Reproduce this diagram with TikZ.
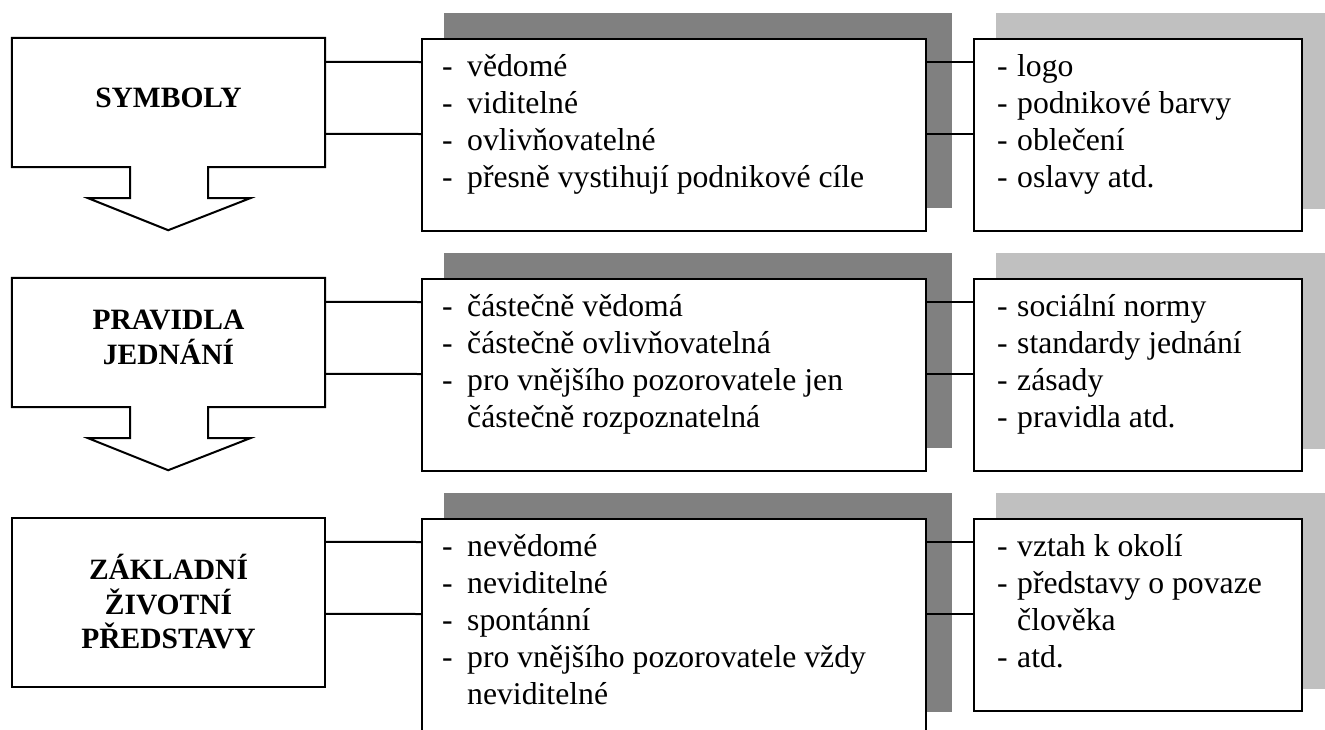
\documentclass[tikz,border=0pt]{standalone}
\usepackage{fontspec}
\setmainfont{Liberation Serif}
\usetikzlibrary{calc}
\definecolor{shadedark}{HTML}{808080}
\definecolor{shadelight}{HTML}{C0C0C0}

% bullet-style lines with a hanging dash
\newlength\dashw
\newcommand\itm[1]{\hbox{\makebox[\dashw][l]{-}#1}}
\newcommand\cnt[1]{\hbox{\hspace*{\dashw}#1}}
\newcommand\itemlist[2]{\setlength\dashw{#1}\vtop{\baselineskip=37pt #2}}
\newcommand\heading[1]{\vtop{\baselineskip=34.5pt\halign{\hfil##\hfil\cr#1\crcr}}}

\pgfdeclarelayer{back}
\pgfsetlayers{back,main}

\tikzset{
  outline/.style={draw=black, line width=2pt, fill=white, line join=miter},
  levelbox/.style={inner sep=0pt, minimum width=313pt},
  midbox/.style={draw=black, line width=2pt, fill=white, inner sep=0pt,
    minimum width=504pt, anchor=north west},
  sidebox/.style={draw=black, line width=2pt, fill=white, inner sep=0pt,
    minimum width=328pt, minimum height=192pt, anchor=north west},
  conn/.style={draw=black, line width=2pt},
  bodytext/.style={inner sep=0pt, anchor=base west,
    font=\fontsize{31.7}{37}\selectfont},
  headtext/.style={inner sep=0pt, anchor=base,
    font=\fontsize{29.5}{34.5}\bfseries\selectfont},
  darkshade/.style={fill=shadedark},
  lightshade/.style={fill=shadelight}
}

\begin{document}
\begin{tikzpicture}[x=1pt,y=-1pt]
\useasboundingbox (0,0) rectangle (1325,729);
\clip (0,0) rectangle (1325,729);

% ---------- level boxes (left column) ----------
\node[levelbox, minimum height=129pt] (L1) at (168.5,102.5) {};
\node[levelbox, minimum height=129pt] (L2) at (168.5,342.5) {};
\node[levelbox, minimum height=169pt] (L3) at (168.5,602.5) {};

\foreach \b in {L1,L2}{
  \draw[outline] (\b.north west) -- (\b.north east) -- (\b.south east)
    -- ++(-117,0) -- ++(0,31) -- ++(42,0) -- ++(-82,32) -- ++(-80,-32)
    -- ++(42,0) -- ++(0,-31) -- (\b.south west) -- cycle;
}
\draw[outline] (L3.north west) rectangle (L3.south east);

\node[headtext] (H1) at ($(L1.north)+(0,70)$) {\heading{SYMBOLY}};
\node[headtext] (H2) at ($(L2.north)+(0,52)$) {\heading{PRAVIDLA\cr JEDNÁNÍ}};
\node[headtext] (H3) at ($(L3.north)+(0,62)$) {\heading{ZÁKLADNÍ\cr ŽIVOTNÍ\cr PŘEDSTAVY}};

% ---------- characteristic boxes (middle column) ----------
\node[midbox, minimum height=192pt] (M1) at (421,38) {};
\node[midbox, minimum height=192pt] (M2) at (421,278) {};
\node[midbox, minimum height=216pt] (M3) at (421,518) {};

% ---------- example boxes (right column) ----------
\node[sidebox] (R1) at (973,38) {};
\node[sidebox] (R2) at (973,278) {};
\node[sidebox] (R3) at (973,518) {};

% ---------- offset shadows ----------
\begin{pgfonlayer}{back}
  \foreach \b in {M1,M2,M3}{
    \fill[darkshade] ($(\b.north west)+(23,-25)$) rectangle ($(\b.south east)+(25,-24)$);
  }
  \foreach \b in {R1,R2,R3}{
    \fill[lightshade] ($(\b.north west)+(23,-25)$) rectangle ($(\b.south east)+(24,-23)$);
  }
\end{pgfonlayer}

% ---------- connectors ----------
\foreach \l/\m/\r in {L1/M1/R1, L2/M2/R2, L3/M3/R3}{
  \draw[conn] ($(\l.north east)+(0,24)$) -- ($(\m.north west)+(0,24)$);
  \draw[conn] ($(\l.north east)+(0,96)$) -- ($(\m.north west)+(0,96)$);
  \draw[conn] ($(\m.north east)+(0,24)$) -- ($(\r.north west)+(0,24)$);
  \draw[conn] ($(\m.north east)+(0,96)$) -- ($(\r.north west)+(0,96)$);
}

% ---------- texts ----------
\node[bodytext] (T1) at ($(M1.north west)+(21,38)$) {\itemlist{25pt}{%
  \itm{vědomé}\itm{viditelné}\itm{ovlivňovatelné}%
  \itm{přesně vystihují podnikové cíle}}};
\node[bodytext] (T2) at ($(M2.north west)+(21,38)$) {\itemlist{25pt}{%
  \itm{částečně vědomá}\itm{částečně ovlivňovatelná}%
  \itm{pro vnějšího pozorovatele jen}\cnt{částečně rozpoznatelná}}};
\node[bodytext] (T3) at ($(M3.north west)+(21,38)$) {\itemlist{25pt}{%
  \itm{nevědomé}\itm{neviditelné}\itm{spontánní}%
  \itm{pro vnějšího pozorovatele vždy}\cnt{neviditelné}}};

\node[bodytext] (E1) at ($(R1.north west)+(24,38)$) {\itemlist{20pt}{%
  \itm{logo}\itm{podnikové barvy}\itm{oblečení}\itm{oslavy atd.}}};
\node[bodytext] (E2) at ($(R2.north west)+(24,38)$) {\itemlist{20pt}{%
  \itm{sociální normy}\itm{standardy jednání}\itm{zásady}\itm{pravidla atd.}}};
\node[bodytext] (E3) at ($(R3.north west)+(24,38)$) {\itemlist{20pt}{%
  \itm{vztah k okolí}\itm{představy o povaze}\cnt{člověka}\itm{atd.}}};
\end{tikzpicture}
\end{document}
